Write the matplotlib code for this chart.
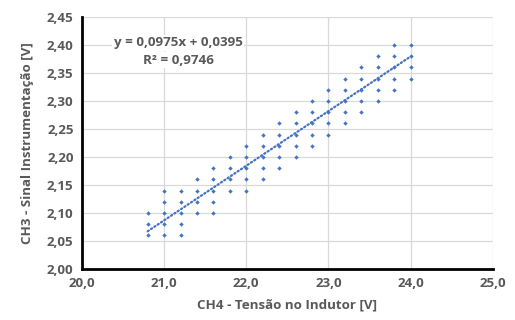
import matplotlib.pyplot as plt
import numpy as np
from matplotlib.ticker import FuncFormatter, MultipleLocator

plt.rcParams['font.family'] = ['Open Sans', 'DejaVu Sans']

# measured points, grouped by CH4 voltage (each column of the scatter)
ch4_levels = [20.8, 21.0, 21.2, 21.4, 21.6, 21.8, 22.0, 22.2, 22.4,
              22.6, 22.8, 23.0, 23.2, 23.4, 23.6, 23.8, 24.0]
ch3_low = [2.06, 2.06, 2.06, 2.10, 2.10, 2.14, 2.14, 2.16, 2.18,
           2.20, 2.22, 2.24, 2.26, 2.28, 2.30, 2.32, 2.34]
ch3_high = [2.10, 2.14, 2.14, 2.16, 2.18, 2.20, 2.22, 2.24, 2.26,
            2.28, 2.30, 2.32, 2.34, 2.36, 2.38, 2.40, 2.40]

slope = 0.0975
intercept = 0.0395
r2 = 0.9746

ch4 = []
ch3 = []
for x, lo, hi in zip(ch4_levels, ch3_low, ch3_high):
    for y in np.arange(lo, hi + 0.001, 0.02):
        ch4.append(x)
        ch3.append(round(y, 2))

blue = '#4472C4'
grey = '#595959'
fs = 9.6

fig = plt.figure(figsize=(5.15, 3.2), dpi=100)
ax = fig.add_axes([0.159, 0.159, 0.798, 0.788])

ax.scatter(ch4, ch3, s=5, color=blue, marker='D', zorder=3, linewidths=0)

xt = np.linspace(min(ch4), max(ch4), 60)
ax.plot(xt, slope * xt + intercept, color=blue, lw=1.6, ls=(0, (0.6, 1.2)),
        dash_capstyle='round', zorder=2)

ax.set_xlim(20, 25)
ax.set_ylim(2.0, 2.45)
ax.xaxis.set_major_locator(MultipleLocator(1))
ax.yaxis.set_major_locator(MultipleLocator(0.05))
ax.xaxis.set_major_formatter(FuncFormatter(lambda v, p: f'{v:.1f}'.replace('.', ',')))
ax.yaxis.set_major_formatter(FuncFormatter(lambda v, p: f'{v:.2f}'.replace('.', ',')))

ax.grid(True, color='#D9D9D9', lw=0.9, zorder=0)
ax.set_axisbelow(True)
for s in ['top', 'right']:
    ax.spines[s].set_visible(False)
for s in ['left', 'bottom']:
    ax.spines[s].set_color('black')
    ax.spines[s].set_linewidth(2)
ax.tick_params(length=0, labelsize=fs, labelcolor=grey, pad=6)
for lab in ax.get_xticklabels() + ax.get_yticklabels():
    lab.set_fontweight('bold')

ax.set_xlabel('CH4 - Tensão no Indutor [V]', fontsize=fs, fontweight='bold',
              color=grey, labelpad=6)
ax.set_ylabel('CH3 - Sinal Instrumentação [V]', fontsize=fs, fontweight='bold',
              color=grey, labelpad=9)

eq = f'y = {slope:.4f}x + {intercept:.4f}'.replace('.', ',')
rt = f'R² = {r2:.4f}'.replace('.', ',')
ax.text(21.17, 2.404, eq, ha='center', va='center', fontsize=fs, fontweight='bold',
        color=grey, bbox=dict(facecolor='white', edgecolor='none', pad=1))
ax.text(21.17, 2.373, rt, ha='center', va='center', fontsize=fs, fontweight='bold',
        color=grey, bbox=dict(facecolor='white', edgecolor='none', pad=1))

fig.savefig('out.png')
plt.close(fig)
